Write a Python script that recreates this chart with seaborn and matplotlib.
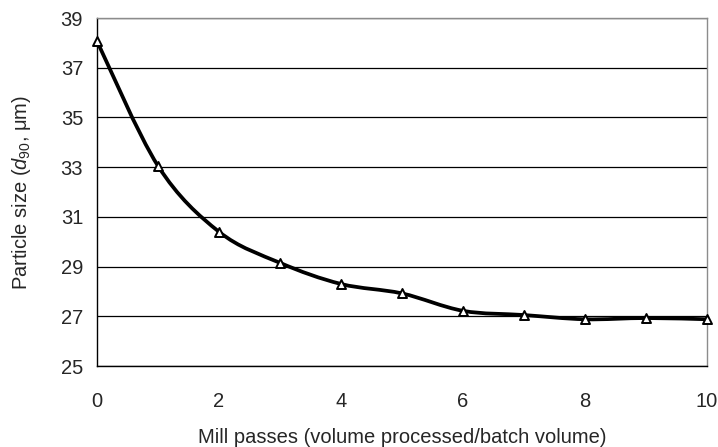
import numpy as np
import pandas as pd
import matplotlib
matplotlib.use("Agg")
import matplotlib.pyplot as plt
import seaborn as sns
from matplotlib.path import Path
from matplotlib.patches import PathPatch

passes = [0, 1, 2, 3, 4, 5, 6, 7, 8, 9, 10]
d90 = [38.07, 33.05, 30.40, 29.15, 28.30, 27.92, 27.22, 27.05, 26.88, 26.93, 26.88]
y_ticks = [25, 27, 29, 31, 33, 35, 37, 39]
x_ticks = [0, 2, 4, 6, 8, 10]

sns.set_theme(style="white")
plt.rcParams['font.family'] = ['Liberation Sans', 'DejaVu Sans']
plt.rcParams['mathtext.fontset'] = 'custom'
plt.rcParams['mathtext.rm'] = 'Liberation Sans'
plt.rcParams['mathtext.it'] = 'Liberation Sans:italic'

df = pd.DataFrame({"passes": passes, "d90": d90})

fig = plt.figure(figsize=(7.18, 4.47), dpi=100)
ax = fig.add_axes([97/718, 1-366/447, (707-97)/718, (366-18)/447])

# smoothed line (Catmull-Rom style Bezier through data points)
pts = np.column_stack([df["passes"].to_numpy(float), df["d90"].to_numpy(float)])
verts = [tuple(pts[0])]
codes = [Path.MOVETO]
n = len(pts)
for i in range(n - 1):
    p0 = pts[i - 1] if i > 0 else pts[i]
    p1 = pts[i]
    p2 = pts[i + 1]
    p3 = pts[i + 2] if i + 2 < n else pts[i + 1]
    c1 = p1 + (p2 - p0) / 6.0
    c2 = p2 - (p3 - p1) / 6.0
    verts += [tuple(c1), tuple(c2), tuple(p2)]
    codes += [Path.CURVE4] * 3
ax.add_patch(PathPatch(Path(verts, codes), facecolor='none', edgecolor='black',
                       lw=2.7, zorder=3, capstyle='round', joinstyle='round'))

sns.scatterplot(data=df, x="passes", y="d90", ax=ax, marker="^", s=42,
                facecolor="white", edgecolor="black", linewidth=1.4, zorder=4,
                clip_on=False)

ax.set_xlim(0, 10)
ax.set_ylim(25, 39)
ax.set_xticks(x_ticks)
ax.set_yticks(y_ticks)
ax.yaxis.grid(True, color='black', lw=0.9)
ax.xaxis.grid(False)
ax.set_axisbelow(True)

for s in ['top', 'right']:
    ax.spines[s].set_color('#8c8c8c')
    ax.spines[s].set_linewidth(1.0)
for s in ['left', 'bottom']:
    ax.spines[s].set_color('black')
    ax.spines[s].set_linewidth(1.0)

ax.tick_params(axis='both', which='major', direction='out', length=5, width=1,
               color='black', labelsize=14.5, pad=5)
ax.tick_params(axis='x', pad=14)

ax.set_xlabel("Mill passes (volume processed/batch volume)", fontsize=14.5, labelpad=12)
ax.set_ylabel(r"Particle size ($\mathit{d}_{90}$, μm)", fontsize=14.5, labelpad=20)

fig.savefig("out.png", dpi=100, facecolor='white')
